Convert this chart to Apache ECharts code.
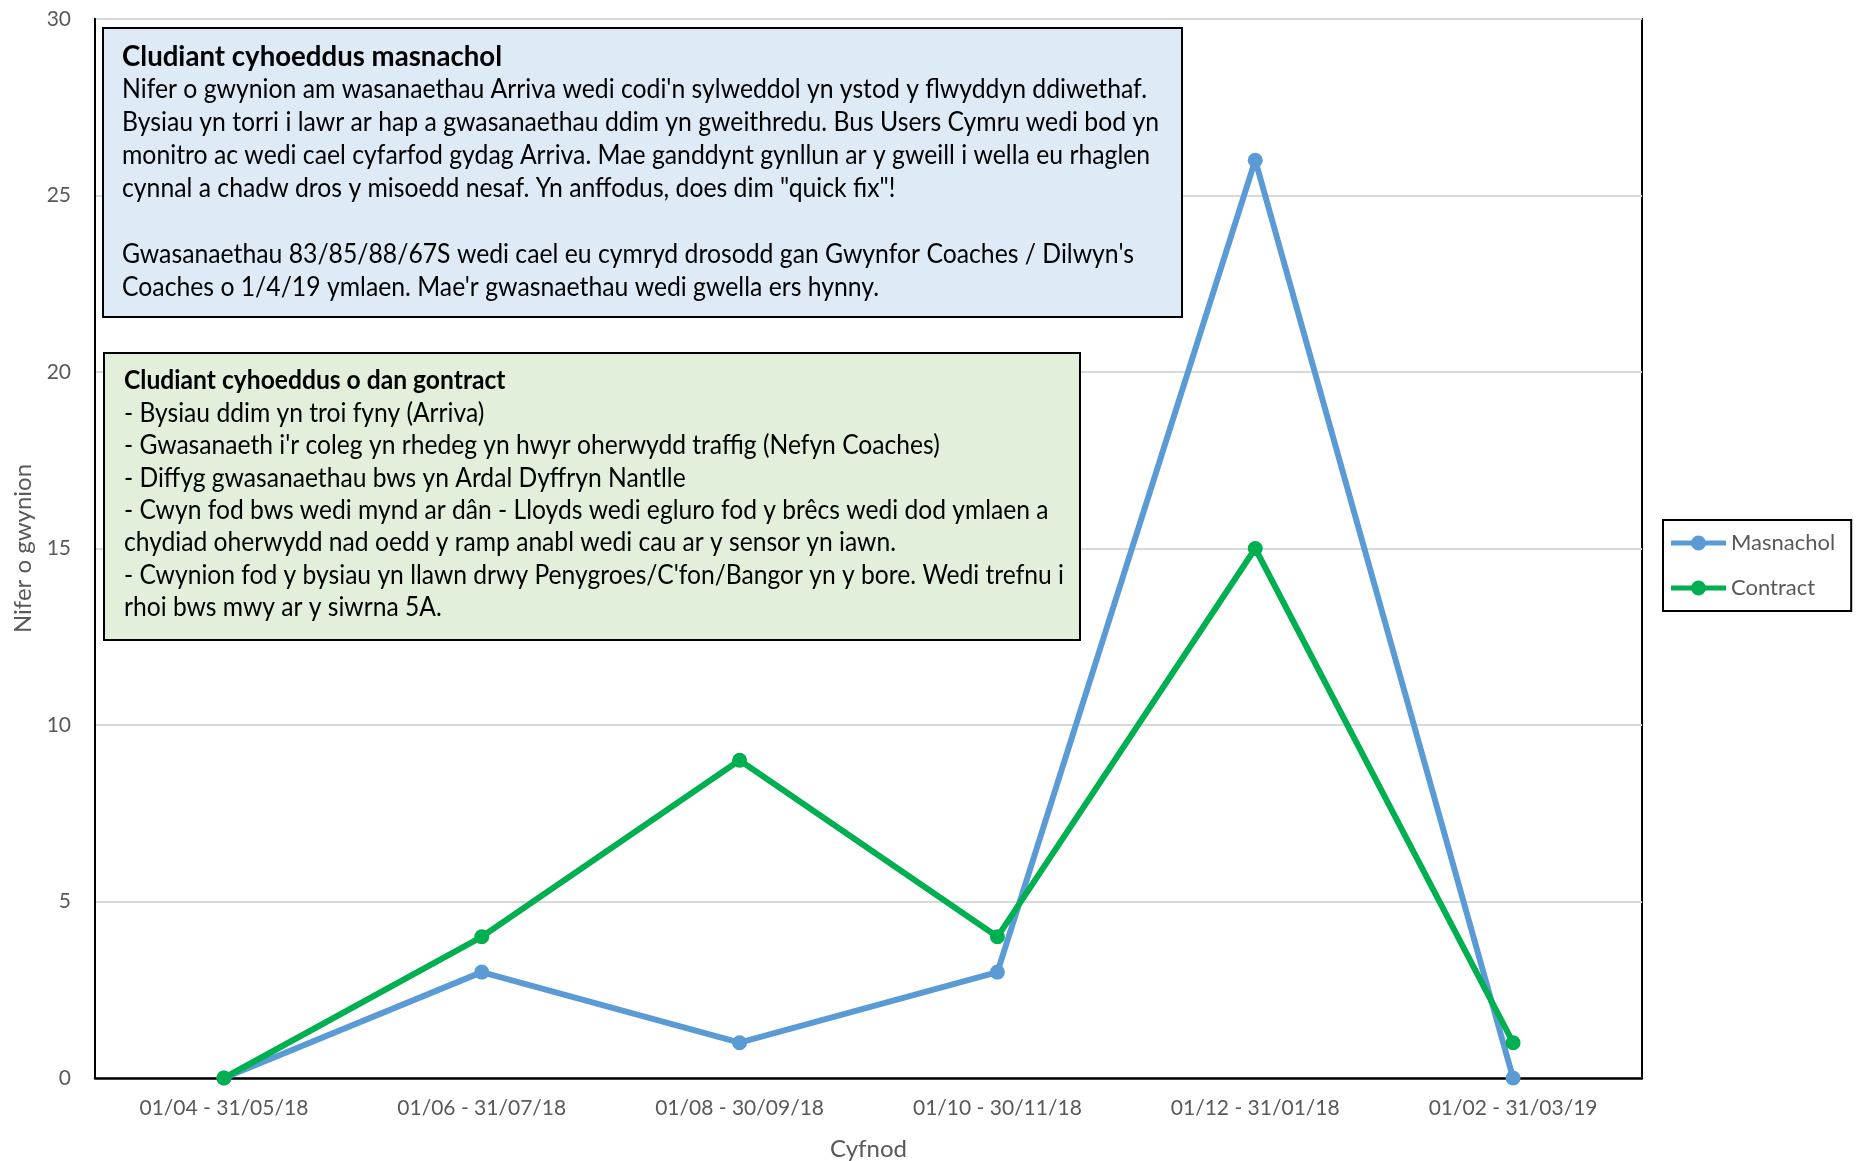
<!DOCTYPE html>
<html>
<head>
<meta charset="utf-8">
<script src="https://cdn.jsdelivr.net/npm/echarts@6/dist/echarts.min.js"></script>
<style>
  html, body { margin: 0; padding: 0; background: #fff; }
  #chart { width: 1859px; height: 1161px; }
</style>
</head>
<body>
<div id="chart"></div>
<script>
// Complaint counts per two-month period
const periods = ['01/04 - 31/05/18', '01/06 - 31/07/18', '01/08 - 30/09/18', '01/10 - 30/11/18', '01/12 - 31/01/18', '01/02 - 31/03/19'];
const masnachol = [0, 3, 1, 3, 26, 0];
const contract = [0, 4, 9, 4, 15, 1];
const seriesNames = ['Masnachol', 'Contract'];

// Annotation text
const noteCommercialTitle = 'Cludiant cyhoeddus masnachol';
const noteCommercialLines = [
  "Nifer o gwynion am wasanaethau Arriva wedi codi'n sylweddol yn ystod y flwyddyn ddiwethaf.",
  'Bysiau yn torri i lawr ar hap a gwasanaethau ddim yn gweithredu. Bus Users Cymru wedi bod yn',
  'monitro ac wedi cael cyfarfod gydag Arriva. Mae ganddynt gynllun ar y gweill i wella eu rhaglen',
  'cynnal a chadw dros y misoedd nesaf. Yn anffodus, does dim "quick fix"!',
  '',
  "Gwasanaethau 83/85/88/67S wedi cael eu cymryd drosodd gan Gwynfor Coaches / Dilwyn's",
  "Coaches o 1/4/19 ymlaen. Mae'r gwasnaethau wedi gwella ers hynny."
];
const noteContractTitle = 'Cludiant cyhoeddus o dan gontract';
const noteContractLines = [
  '- Bysiau ddim yn troi fyny (Arriva)',
  "- Gwasanaeth i'r coleg yn rhedeg yn hwyr oherwydd traffig (Nefyn Coaches)",
  '- Diffyg gwasanaethau bws yn Ardal Dyffryn Nantlle',
  '- Cwyn fod bws wedi mynd ar dân - Lloyds wedi egluro fod y brêcs wedi dod ymlaen a',
  'chydiad oherwydd nad oedd y ramp anabl wedi cau ar y sensor yn iawn.',
  "- Cwynion fod y bysiau yn llawn drwy Penygroes/C'fon/Bangor yn y bore. Wedi trefnu i",
  'rhoi bws mwy ar y siwrna 5A.'
];

const FONT = 'Lato, "Open Sans", sans-serif';

// Legend marker: thick line segment with a dot in the middle
const LEGEND_ICON = 'path://M0,5H55V10H0Z M20,7.5A7.5,7.5 0 1,1 35,7.5A7.5,7.5 0 1,1 20,7.5Z';

// Horizontal squeeze so the widest line of a note fits its box
function fitScale(lines, size, target) {
  const ctx = document.createElement('canvas').getContext('2d');
  ctx.font = size + 'px ' + FONT;
  let w = 0;
  lines.forEach(function (l) { w = Math.max(w, ctx.measureText(l).width); });
  return w > 0 ? target / w : 1;
}

function noteBox(cfg) {
  const sx = fitScale(cfg.lines, cfg.fontSize, cfg.textWidth);
  const children = [{
    type: 'rect',
    z: 100,
    shape: { x: cfg.x, y: cfg.y, width: cfg.w, height: cfg.h },
    style: { fill: cfg.fill, stroke: '#000', lineWidth: 2 }
  }];
  const all = [cfg.title].concat(cfg.lines);
  all.forEach(function (line, i) {
    if (!line) return;
    const isTitle = i === 0;
    children.push({
      type: 'text',
      z: 101,
      x: cfg.tx,
      y: cfg.ty + i * cfg.lh,
      scaleX: sx,
      style: {
        text: line,
        font: (isTitle ? 'bold ' + cfg.titleSize : cfg.fontSize) + 'px ' + FONT,
        fill: '#000',
        verticalAlign: 'middle'
      }
    });
  });
  return { type: 'group', z: 100, children: children };
}

const chart = echarts.init(document.getElementById('chart'));

const option = {
  backgroundColor: '#fff',
  animation: false,
  textStyle: { fontFamily: FONT },
  grid: {
    left: 95, right: 217, top: 19, bottom: 83,
    show: true, borderColor: '#000', borderWidth: 2,
    containLabel: false,
    outerBoundsMode: 'none'
  },
  legend: {
    data: seriesNames.map(function (n) { return { name: n, icon: LEGEND_ICON }; }),
    orient: 'vertical',
    left: 1663, top: 520,
    padding: [12, 16, 12, 8],
    itemGap: 23,
    itemWidth: 55,
    itemHeight: 15,
    borderColor: '#000',
    borderWidth: 2,
    textStyle: { color: '#595959', fontSize: 22, fontFamily: FONT }
  },
  xAxis: {
    type: 'category',
    data: periods,
    boundaryGap: true,
    name: 'Cyfnod',
    nameLocation: 'middle',
    nameGap: 59,
    nameTextStyle: { color: '#595959', fontSize: 24, fontFamily: FONT },
    axisLine: { show: true, lineStyle: { color: '#000', width: 2.5 } },
    axisTick: { show: false },
    axisLabel: { color: '#595959', fontSize: 21, margin: 20, fontFamily: FONT }
  },
  yAxis: {
    type: 'value',
    min: 0, max: 30, interval: 5,
    name: 'Nifer o gwynion',
    nameLocation: 'middle',
    nameGap: 54,
    nameTextStyle: { color: '#595959', fontSize: 24, fontFamily: FONT },
    axisLine: { show: true, lineStyle: { color: '#000', width: 2 } },
    axisTick: { show: false },
    axisLabel: { color: '#595959', fontSize: 21, margin: 24, fontFamily: FONT },
    splitLine: { show: true, lineStyle: { color: '#d9d9d9', width: 2 } }
  },
  series: [
    {
      name: seriesNames[0],
      type: 'line',
      data: masnachol,
      symbol: 'circle',
      symbolSize: 15,
      lineStyle: { color: '#5B9BD5', width: 6 },
      itemStyle: { color: '#5B9BD5' },
      z: 3
    },
    {
      name: seriesNames[1],
      type: 'line',
      data: contract,
      symbol: 'circle',
      symbolSize: 15,
      lineStyle: { color: '#00B050', width: 6 },
      itemStyle: { color: '#00B050' },
      z: 4
    }
  ],
  graphic: [
    noteBox({
      x: 103, y: 28, w: 1079, h: 289, fill: '#DEEAF6',
      tx: 122, ty: 57, lh: 32.9, fontSize: 26, titleSize: 29,
      title: noteCommercialTitle, lines: noteCommercialLines, textWidth: 1037
    }),
    noteBox({
      x: 104, y: 353, w: 976, h: 287, fill: '#E2EFDA',
      tx: 124, ty: 381, lh: 32.4, fontSize: 26, titleSize: 26,
      title: noteContractTitle, lines: noteContractLines, textWidth: 940
    })
  ]
};

chart.setOption(option);
</script>
</body>
</html>
